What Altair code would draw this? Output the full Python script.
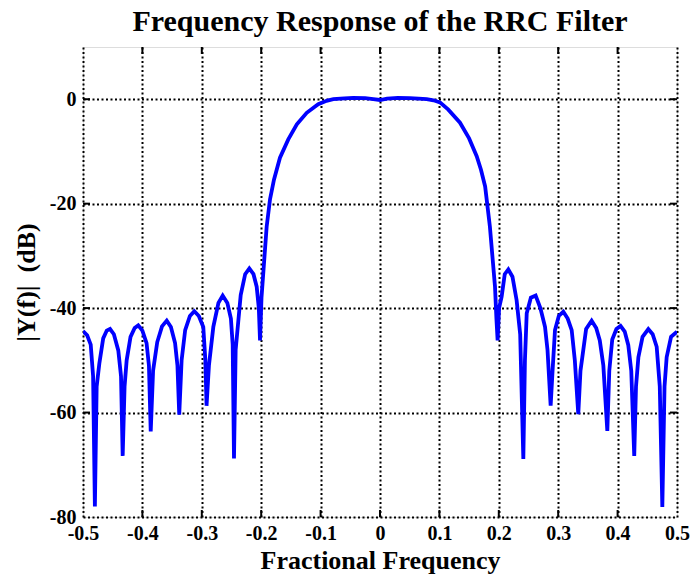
import altair as alt
import pandas as pd

# Frequency response (fractional frequency, dB)
freq = [
    -0.500, -0.493, -0.487, -0.483, -0.480, -0.477, -0.4725, -0.466, -0.460, -0.4545,
    -0.448, -0.4406, -0.436, -0.4332, -0.430, -0.4265, -0.420, -0.413, -0.407, -0.400,
    -0.393, -0.389, -0.386, -0.382, -0.375, -0.367, -0.359, -0.352, -0.345, -0.341,
    -0.338, -0.334, -0.328, -0.320, -0.3126, -0.305, -0.2975, -0.294, -0.292, -0.288,
    -0.2806, -0.272, -0.2648, -0.257, -0.251, -0.248, -0.2458, -0.243, -0.2345, -0.227,
    -0.220, -0.213, -0.2076, -0.204, -0.202, -0.1995, -0.1965, -0.1908, -0.1852, -0.1785,
    -0.1684, -0.1544, -0.140, -0.1234, -0.104, -0.090, -0.0786, -0.060, -0.045, -0.025,
    -0.0113, 0.000,
    0.012, 0.030, 0.050, 0.065, 0.0786, 0.090, 0.101, 0.115, 0.1347, 0.150,
    0.1628, 0.170, 0.177, 0.185, 0.1936, 0.196, 0.198, 0.2005, 0.2048, 0.210,
    0.216, 0.223, 0.230, 0.236, 0.2413, 0.244, 0.247, 0.254, 0.262, 0.270,
    0.2778, 0.282, 0.2873, 0.2905, 0.2946, 0.301, 0.3086, 0.316, 0.3227, 0.328,
    0.3338, 0.3375, 0.3406, 0.347, 0.3563, 0.364, 0.370, 0.376, 0.3827, 0.386,
    0.391, 0.398, 0.405, 0.412, 0.418, 0.423, 0.428, 0.431, 0.435, 0.442,
    0.4517, 0.459, 0.4658, 0.471, 0.4753, 0.479, 0.4826, 0.490, 0.500,
]
mag_db = [
    -44.4, -45.2, -47.0, -53.0, -78.0, -55.0, -50.6, -45.8, -44.3, -44.0,
    -45.0, -48.1, -53.0, -68.3, -55.0, -50.0, -45.5, -43.8, -43.3, -44.3,
    -46.7, -51.0, -63.6, -52.0, -46.5, -43.5, -42.4, -43.6, -46.7, -51.0,
    -60.4, -50.0, -44.2, -41.5, -40.6, -41.5, -43.6, -50.0, -58.7, -51.0,
    -43.6, -39.0, -37.6, -39.0, -42.0, -47.0, -68.8, -48.0, -37.5, -33.5,
    -32.4, -33.5, -35.9, -40.0, -46.2, -38.0, -33.3, -24.4, -19.2, -15.4,
    -11.2, -7.7, -4.8, -2.6, -0.96, -0.3, 0.0, 0.15, 0.25, 0.2,
    0.0, -0.15,
    0.1, 0.25, 0.2, 0.1, 0.0, -0.2, -0.6, -2.0, -4.5, -7.5,
    -10.9, -13.5, -16.7, -24.4, -35.9, -42.0, -46.2, -40.0, -37.8, -33.5,
    -32.6, -34.0, -38.5, -45.0, -68.9, -50.0, -41.0, -38.0, -37.6, -40.0,
    -43.6, -48.0, -58.7, -52.0, -44.2, -41.5, -40.7, -42.0, -44.2, -50.0,
    -60.3, -52.0, -49.4, -44.0, -42.4, -43.8, -46.2, -51.0, -63.5, -52.0,
    -46.0, -44.0, -43.4, -44.5, -47.1, -52.0, -68.3, -55.0, -49.4, -45.5,
    -44.0, -45.0, -47.4, -55.0, -78.1, -55.0, -49.4, -45.5, -44.5,
]

x_ticks = [-0.5, -0.4, -0.3, -0.2, -0.1, 0.0, 0.1, 0.2, 0.3, 0.4, 0.5]
y_ticks = [-80, -60, -40, -20, 0]
x_domain = [-0.5, 0.5]
y_domain = [-80, 10]

W, H = 594, 470
FONT = "Liberation Serif"
TL = 7  # inward tick length in px

df = pd.DataFrame({"f": freq, "db": mag_db})
xt = pd.DataFrame({"f": x_ticks[1:-1]})
yt = pd.DataFrame({"db": y_ticks[1:]})

grid_style = dict(gridColor="black", gridDash=[2, 2.5], gridWidth=2, gridOpacity=1)

xaxis = alt.Axis(
    values=x_ticks, title="Fractional Frequency",
    labelExpr="replace(format(datum.value, '.1~f'), '\u2212', '-')",
    grid=True, ticks=False, domain=False, labelFlush=False, labelOverlap=False,
    labelFont=FONT, labelFontSize=20, labelFontWeight="bold", labelColor="black",
    labelPadding=6, titleFont=FONT, titleFontSize=26, titleFontWeight="bold",
    titleColor="black", titlePadding=4, **grid_style,
)
yaxis = alt.Axis(
    values=y_ticks, title="|Y(f)|\u00a0\u00a0(dB)",
    labelExpr="replace(format(datum.value, 'd'), '\u2212', '-')",
    grid=True, ticks=False, domain=False, labelFlush=False, labelOverlap=False,
    labelFont=FONT, labelFontSize=20, labelFontWeight="bold", labelColor="black",
    labelPadding=7, titleFont=FONT, titleFontSize=26, titleFontWeight="bold",
    titleColor="black", titlePadding=10, **grid_style,
)
X = alt.X("f:Q", scale=alt.Scale(domain=x_domain, nice=False, zero=False), axis=xaxis)
Y = alt.Y("db:Q", scale=alt.Scale(domain=y_domain, nice=False, zero=False), axis=yaxis)

line = alt.Chart(df).mark_line(color="#0000ff", strokeWidth=3.8, clip=True).encode(x=X, y=Y)

tick_style = dict(color="black", strokeWidth=2)
bottom = alt.Chart(xt).mark_rule(**tick_style).encode(x=X, y=alt.value(H), y2=alt.value(H - TL))
top = alt.Chart(xt).mark_rule(**tick_style).encode(x=X, y=alt.value(0), y2=alt.value(TL))
left = alt.Chart(yt).mark_rule(**tick_style).encode(y=Y, x=alt.value(0), x2=alt.value(TL))
right = alt.Chart(yt).mark_rule(**tick_style).encode(y=Y, x=alt.value(W), x2=alt.value(W - TL))

chart = alt.layer(line, bottom, top, left, right).properties(
    width=W, height=H,
    title=alt.TitleParams(
        "Frequency Response of the RRC Filter", font=FONT, fontSize=30,
        fontWeight="bold", color="black", anchor="middle", offset=9,
    ),
    autosize=alt.AutoSizeParams(type="none"),
    padding={"left": 83, "top": 47, "right": 14, "bottom": 58},
).configure_view(stroke="black", strokeWidth=3.5).configure(background="white")

chart.save("out.html", embed_options={"renderer": "svg", "actions": False})
